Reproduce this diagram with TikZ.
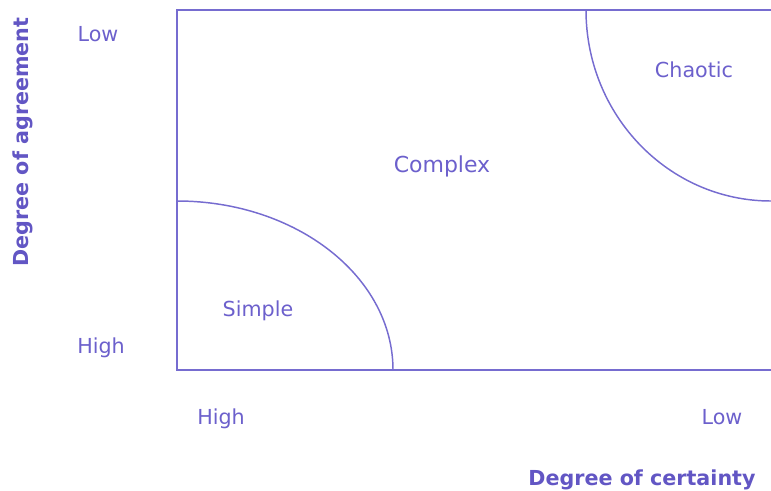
\documentclass[tikz,border=0pt]{standalone}
\usepackage{fontspec}
\setmainfont{DejaVu Sans}
\definecolor{linecol}{RGB}{118,108,208}
\definecolor{txtcol}{RGB}{108,96,204}
\definecolor{boldcol}{RGB}{98,86,196}
\begin{document}
\begin{tikzpicture}[x=0.75pt,y=-0.75pt,
  lbl/.style={text=txtcol,font=\fontsize{15.5}{18}\selectfont,inner sep=0pt,anchor=base},
  axis/.style={text=boldcol,font=\bfseries\fontsize{15.5}{18}\selectfont,inner sep=0pt,anchor=base},
  frame/.style={draw=linecol,line width=1.5pt},
  curve/.style={draw=linecol,line width=1.1pt}]
\useasboundingbox (0,0) rectangle (771,490);
\draw[frame] (772,10) -- (177,10) -- (177,370) -- (772,370);
\draw[curve] (177,201) arc[start angle=-90,end angle=0,x radius=216,y radius=169];
\draw[curve] (586,10) arc[start angle=180,end angle=90,x radius=185,y radius=191];
\node[lbl] (lowy) at (98,41) {Low};
\node[lbl] (highy) at (101,353) {High};
\node[lbl] (highx) at (221,424) {High};
\node[lbl] (lowx) at (722,424) {Low};
\node[lbl,font=\fontsize{16.5}{19}\selectfont] (complex) at (442,172) {Complex};
\node[lbl] (simple) at (258,316) {Simple};
\node[lbl] (chaotic) at (694,77) {Chaotic};
\node[axis] (xaxis) at (642,485) {Degree of certainty};
\node[axis,rotate=90] (yaxis) at (28,142) {Degree of agreement};
\end{tikzpicture}
\end{document}
